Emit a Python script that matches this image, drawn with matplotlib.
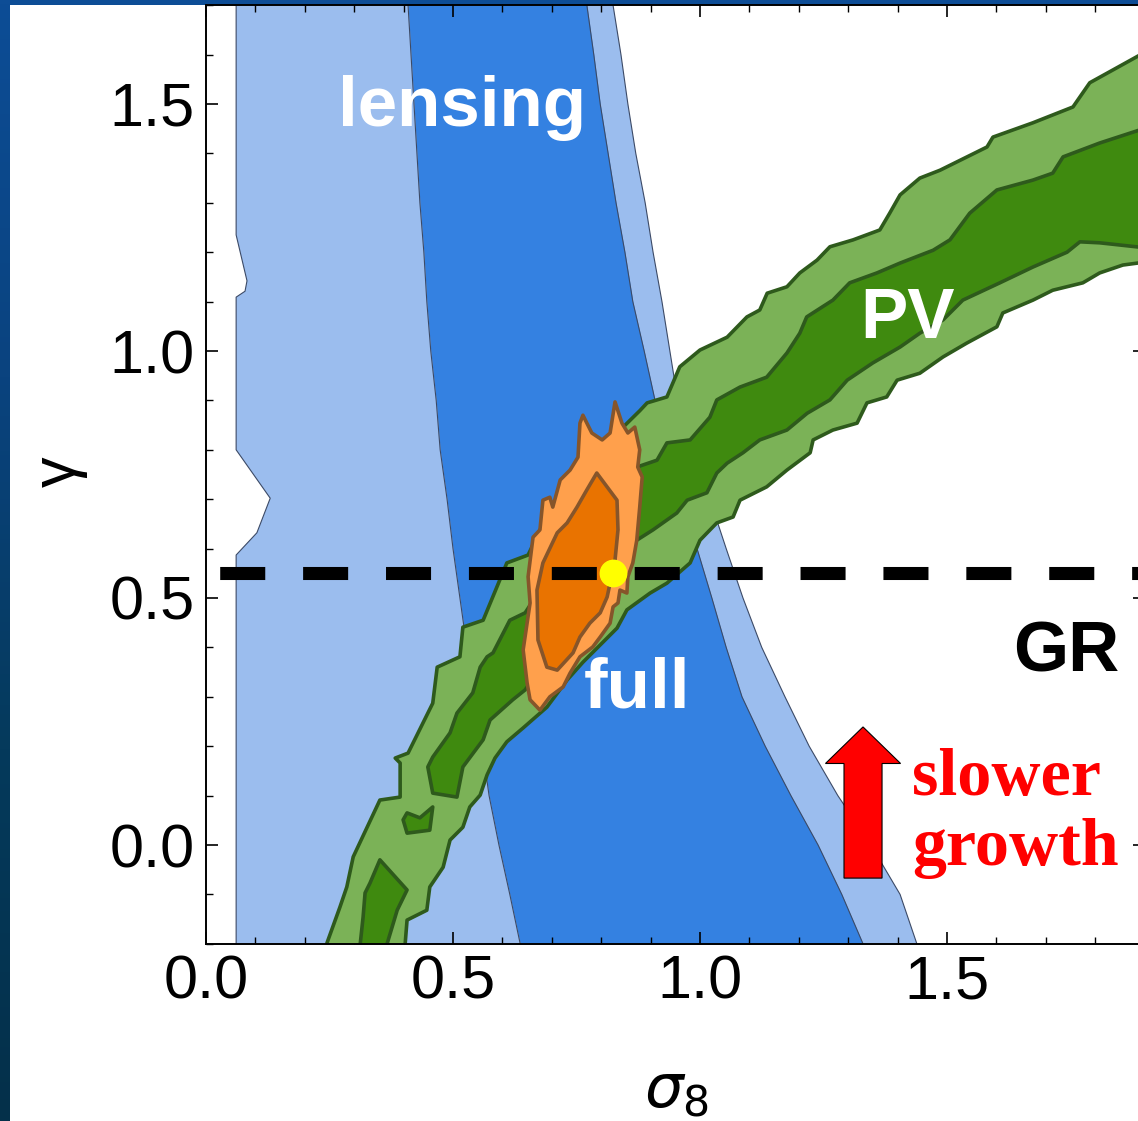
import numpy as np
import matplotlib
matplotlib.use("Agg")
import matplotlib.pyplot as plt
from matplotlib.colors import LinearSegmentedColormap
from matplotlib.patches import Rectangle
from matplotlib.ticker import MultipleLocator, FormatStrFormatter

plt.rcParams['font.family'] = ['Liberation Sans', 'DejaVu Sans']
plt.rcParams['mathtext.fontset'] = 'dejavusans'

# ---------------- data ----------------
# lensing contours (sigma8 boundaries on a gamma grid)
lens_y = [-0.2, -0.1, 0.0, 0.1, 0.2, 0.3, 0.4, 0.5, 0.6, 0.7, 0.8, 0.9,
          1.0, 1.1, 1.2, 1.3, 1.4, 1.5, 1.6, 1.7]
lens_in_left = [0.636, 0.615, 0.593, 0.573, 0.559, 0.543, 0.528, 0.514, 0.500, 0.488,
                0.474, 0.466, 0.455, 0.447, 0.441, 0.433, 0.427, 0.421, 0.415, 0.409]
lens_in_right = [1.330, 1.287, 1.239, 1.184, 1.132, 1.085, 1.053, 1.024, 0.994, 0.966,
                 0.937, 0.909, 0.887, 0.864, 0.848, 0.830, 0.814, 0.798, 0.785, 0.771]
lens_out_right = [1.439, 1.405, 1.346, 1.279, 1.221, 1.172, 1.125, 1.087, 1.053, 1.020,
                  0.988, 0.955, 0.939, 0.923, 0.905, 0.889, 0.870, 0.854, 0.840, 0.824]
lens_out_left_y = [-0.2, 0.587, 0.632, 0.702, 0.800, 1.109, 1.121, 1.142, 1.235, 1.7]
lens_out_left_x = [0.061, 0.061, 0.103, 0.130, 0.061, 0.061, 0.079, 0.083, 0.061, 0.061]

# peculiar-velocity (PV) contours
pv_out_x = [0.245, 0.245, 0.271, 0.285, 0.298, 0.352, 0.393, 0.393, 0.383, 0.409, 0.459,
            0.468, 0.514, 0.520, 0.561, 0.609, 0.652, 0.686, 0.747, 0.818, 0.878, 0.893,
            0.933, 0.959, 1.000, 1.055, 1.095, 1.121, 1.136, 1.176, 1.202, 1.237, 1.263,
            1.310, 1.364, 1.384, 1.405, 1.445, 1.486, 1.581, 1.593, 1.674, 1.755, 1.789,
            1.836, 1.901, 1.950,
            1.950, 1.901, 1.856, 1.809, 1.775, 1.714, 1.674, 1.613, 1.601, 1.540, 1.492,
            1.445, 1.399, 1.378, 1.338, 1.318, 1.269, 1.229, 1.223, 1.176, 1.135, 1.081,
            1.067, 1.034, 1.000, 0.980, 0.933, 0.899, 0.852, 0.832, 0.798, 0.763, 0.731,
            0.690, 0.642, 0.609, 0.585, 0.569, 0.555, 0.534, 0.520, 0.494, 0.480, 0.453,
            0.447, 0.407, 0.403, 0.403]
pv_out_y = [-0.25, -0.198, -0.126, -0.085, -0.024, 0.091, 0.097, 0.166, 0.176, 0.186, 0.287,
            0.360, 0.381, 0.441, 0.455, 0.571, 0.587, 0.658, 0.759, 0.820, 0.879, 0.895,
            0.907, 0.968, 1.002, 1.028, 1.069, 1.083, 1.117, 1.130, 1.158, 1.184, 1.211,
            1.225, 1.245, 1.279, 1.316, 1.350, 1.366, 1.413, 1.433, 1.462, 1.494, 1.543,
            1.569, 1.605, 1.620,
            1.170, 1.180, 1.174, 1.158, 1.138, 1.123, 1.103, 1.077, 1.049, 1.016, 0.988,
            0.955, 0.941, 0.907, 0.895, 0.854, 0.840, 0.820, 0.794, 0.759, 0.725, 0.698,
            0.664, 0.652, 0.617, 0.571, 0.530, 0.510, 0.476, 0.439, 0.405, 0.370, 0.334,
            0.279, 0.237, 0.209, 0.176, 0.142, 0.101, 0.077, 0.036, 0.010, -0.045, -0.085,
            -0.132, -0.152, -0.202, -0.25]

pv_in_x = [0.449, 0.459, 0.494, 0.508, 0.540, 0.555, 0.569, 0.581, 0.615, 0.646, 0.716,
           0.798, 0.872, 0.913, 0.933, 0.980, 1.020, 1.034, 1.081, 1.135, 1.176, 1.202,
           1.216, 1.269, 1.303, 1.358, 1.405, 1.472, 1.506, 1.546, 1.601, 1.674, 1.714,
           1.735, 1.809, 1.901, 1.950,
           1.950, 1.901, 1.809, 1.769, 1.743, 1.674, 1.607, 1.532, 1.492, 1.445, 1.405,
           1.350, 1.298, 1.263, 1.217, 1.176, 1.121, 1.087, 1.055, 1.034, 1.014, 0.974,
           0.953, 0.905, 0.872, 0.798, 0.716, 0.646, 0.621, 0.575, 0.561, 0.520, 0.508,
           0.459]
pv_in_y = [0.158, 0.178, 0.227, 0.267, 0.308, 0.360, 0.381, 0.389, 0.455, 0.470, 0.577,
           0.678, 0.765, 0.779, 0.814, 0.820, 0.866, 0.901, 0.927, 0.947, 0.996, 1.036,
           1.069, 1.103, 1.138, 1.158, 1.178, 1.204, 1.225, 1.279, 1.326, 1.346, 1.360,
           1.393, 1.421, 1.451, 1.460,
           1.190, 1.209, 1.219, 1.221, 1.200, 1.170, 1.138, 1.103, 1.063, 1.036, 1.008,
           0.976, 0.941, 0.901, 0.874, 0.840, 0.820, 0.794, 0.773, 0.753, 0.713, 0.698,
           0.672, 0.638, 0.617, 0.536, 0.415, 0.314, 0.294, 0.253, 0.213, 0.158, 0.097,
           0.105]

pv_in2_x = [0.399, 0.407, 0.433, 0.459, 0.453, 0.407]
pv_in2_y = [0.051, 0.065, 0.055, 0.077, 0.030, 0.024]

pv_in3_x = [0.352, 0.407, 0.387, 0.366, 0.366, 0.312, 0.312, 0.318, 0.322, 0.332]
pv_in3_y = [-0.030, -0.091, -0.132, -0.202, -0.25, -0.25, -0.202, -0.146, -0.097, -0.077]

# full (combined) contours
full_out_x = [0.763, 0.781, 0.802, 0.818, 0.828, 0.842, 0.854, 0.868, 0.878, 0.874, 0.883,
              0.878, 0.872, 0.864, 0.854, 0.852, 0.838, 0.834, 0.824, 0.818, 0.798, 0.783,
              0.757, 0.737, 0.723, 0.696, 0.676, 0.656, 0.650, 0.642, 0.656, 0.652, 0.662,
              0.676, 0.682, 0.696, 0.702, 0.717, 0.737, 0.753, 0.757]
full_out_y = [0.870, 0.834, 0.820, 0.834, 0.897, 0.854, 0.834, 0.846, 0.800, 0.765, 0.745,
              0.684, 0.617, 0.571, 0.543, 0.510, 0.516, 0.490, 0.482, 0.449, 0.421, 0.401,
              0.381, 0.348, 0.320, 0.300, 0.273, 0.294, 0.328, 0.395, 0.490, 0.543, 0.623,
              0.638, 0.698, 0.704, 0.684, 0.739, 0.759, 0.785, 0.854]
full_in_x = [0.791, 0.832, 0.834, 0.828, 0.818, 0.812, 0.798, 0.777, 0.757, 0.743, 0.711,
             0.690, 0.672, 0.670, 0.682, 0.711, 0.731, 0.751, 0.771]
full_in_y = [0.753, 0.698, 0.638, 0.577, 0.530, 0.502, 0.470, 0.449, 0.421, 0.389, 0.354,
             0.360, 0.415, 0.516, 0.571, 0.632, 0.652, 0.684, 0.719]

best_fit = (0.824, 0.55)   # yellow point (sigma8, gamma)
gr_gamma = 0.55            # GR prediction

# ---------------- figure ----------------
W, H = 1138, 1121
fig = plt.figure(figsize=(W / 100, H / 100), dpi=100)

bg = fig.add_axes([0, 0, 1, 1], zorder=-10)
grad = np.linspace(0, 1, 256).reshape(-1, 1)
bgcmap = LinearSegmentedColormap.from_list('bg', ['#0d4d96', '#0a437f', '#053a5c', '#04304a'])
bg.imshow(grad, aspect='auto', cmap=bgcmap, extent=[0, 1, 0, 1], origin='upper')
bg.add_patch(Rectangle((10 / W, 0), 1, 1 - 5 / H, transform=bg.transAxes,
                       facecolor='white', edgecolor='none'))
bg.set_xlim(0, 1); bg.set_ylim(0, 1)
bg.axis('off')

ax = fig.add_axes([206 / W, 177.2 / H, 938.6 / W, 938.6 / H])
ax.set_facecolor('white')
ax.set_xlim(0, 1.9)
ax.set_ylim(-0.2, 1.7)

c_lblue = '#9bbdee'
c_dblue = '#3481e1'
c_lgreen = '#7bb257'
c_dgreen = '#3f8a0f'
c_gedge = '#2e5a1c'
c_lorange = '#ffa04c'
c_dorange = '#e97300'
c_oedge = '#86552a'
c_ledge = '#3c4a66'

# lensing outer (light) region
lo_x = list(lens_out_left_x) + list(lens_out_right[::-1])
lo_y = list(lens_out_left_y) + list(lens_y[::-1])
ax.fill(lo_x, lo_y, color=c_lblue, lw=0, zorder=1)
ax.plot(lens_out_left_x, lens_out_left_y, color=c_ledge, lw=0.8, zorder=1.2)
ax.plot(lens_out_right, lens_y, color=c_ledge, lw=0.8, zorder=1.2)
# lensing inner (dark) region
ax.fill_betweenx(lens_y, lens_in_left, lens_in_right, color=c_dblue, lw=0, zorder=1.3)
ax.plot(lens_in_left, lens_y, color=c_ledge, lw=0.8, zorder=1.4)
ax.plot(lens_in_right, lens_y, color=c_ledge, lw=0.8, zorder=1.4)

# PV contours
ax.fill(pv_out_x, pv_out_y, facecolor=c_lgreen, edgecolor=c_gedge, lw=2.6, zorder=2,
        joinstyle='round')
for xs, ys in [(pv_in_x, pv_in_y), (pv_in2_x, pv_in2_y), (pv_in3_x, pv_in3_y)]:
    ax.fill(xs, ys, facecolor=c_dgreen, edgecolor=c_gedge, lw=2.6, zorder=2.2,
            joinstyle='round')

# full contours
ax.fill(full_out_x, full_out_y, facecolor=c_lorange, edgecolor=c_oedge, lw=2.6, zorder=3,
        joinstyle='round')
ax.fill(full_in_x, full_in_y, facecolor=c_dorange, edgecolor=c_oedge, lw=2.6, zorder=3.2,
        joinstyle='round')

# GR line and best fit
ax.axhline(gr_gamma, color='black', lw=9.4, linestyle=(5.3, (3.45, 2.9)), zorder=4,
           solid_capstyle='butt', dash_capstyle='butt')
ax.plot([best_fit[0]], [best_fit[1]], 'o', ms=19, color='#ffff00', mec='#ffff00', zorder=5)

# labels inside the plot
ax.text(0.518, 1.492, 'lensing', color='white', fontsize=51, fontweight='bold',
        ha='center', va='center', zorder=6)
ax.text(1.421, 1.063, 'PV', color='white', fontsize=51, fontweight='bold',
        ha='center', va='center', zorder=6)
ax.text(0.872, 0.314, 'full', color='white', fontsize=51, fontweight='bold',
        ha='center', va='center', zorder=6)
ax.text(1.741, 0.387, 'GR', color='black', fontsize=51, fontweight='bold',
        ha='center', va='center', zorder=6)
ax.text(1.429, 0.101, 'slower', color='#ff0000', fontsize=49, fontweight='bold',
        family='Liberation Serif', ha='left', va='baseline', zorder=6)
ax.text(1.429, -0.040, 'growth', color='#ff0000', fontsize=49, fontweight='bold',
        family='Liberation Serif', ha='left', va='baseline', zorder=6)
ax.arrow(1.330, -0.067, 0, 0.306, width=0.077, head_width=0.152, head_length=0.074,
         length_includes_head=True, facecolor='#ff0000', edgecolor='black', lw=0.8,
         zorder=6)

# axes styling
ax.xaxis.set_major_locator(MultipleLocator(0.5))
ax.xaxis.set_minor_locator(MultipleLocator(0.1))
ax.yaxis.set_major_locator(MultipleLocator(0.5))
ax.yaxis.set_minor_locator(MultipleLocator(0.1))
ax.xaxis.set_major_formatter(FormatStrFormatter('%.1f'))
ax.yaxis.set_major_formatter(FormatStrFormatter('%.1f'))
ax.tick_params(which='both', direction='in', top=True, right=True, color='black')
ax.tick_params(which='major', length=8.6, width=1.2, labelsize=44, pad=8)
ax.tick_params(which='minor', length=5, width=1.0)
for s in ax.spines.values():
    s.set_linewidth(1.4)
    s.set_zorder(7)

fig.text(59 / W, 1 - 472 / H, 'γ', fontsize=44, rotation=90, ha='center', va='center')
fig.text(676 / W, 1 - 1092 / H, r'$\sigma_8$', fontsize=44, ha='center', va='center')

fig.savefig('out.png', dpi=100)
